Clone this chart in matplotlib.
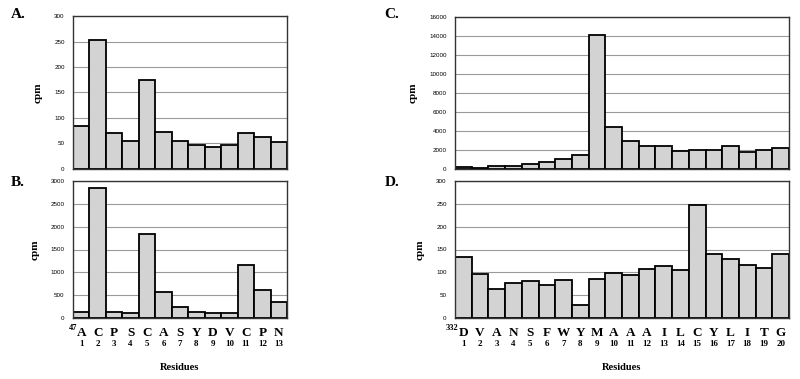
import matplotlib
matplotlib.use("Agg")
import matplotlib.pyplot as plt
import matplotlib.transforms as mtransforms

# Data
res_ab = ["A", "C", "P", "S", "C", "A", "S", "Y", "D", "V", "C", "P", "N"]
pos_ab = [str(i) for i in range(1, 14)]
vals_a = [84, 252, 70, 55, 174, 72, 54, 48, 43, 47, 71, 62, 52]
vals_b = [130, 2850, 130, 110, 1830, 560, 230, 130, 110, 110, 1150, 620, 350]

res_cd = ["D", "V", "A", "N", "S", "F", "W", "Y", "M", "A", "A", "A", "I", "L",
          "C", "Y", "L", "I", "T", "G"]
pos_cd = [str(i) for i in range(1, 21)]
vals_c = [175, 105, 315, 315, 490, 735, 1020, 1470, 14100, 4420, 2950, 2390,
          2390, 1930, 2035, 2035, 2420, 1820, 2035, 2250]
vals_d = [133, 97, 64, 77, 81, 73, 84, 28, 86, 98, 95, 108, 113, 106, 248,
          141, 130, 115, 110, 141]

yt_a = [0, 50, 100, 150, 200, 250, 300]
yt_b = [0, 500, 1000, 1500, 2000, 2500, 3000]
yt_c = [0, 2000, 4000, 6000, 8000, 10000, 12000, 14000, 16000]
yt_d = [0, 50, 100, 150, 200, 250, 300]

SERIF = "Liberation Serif"
SANS = "Liberation Sans"

fig = plt.figure(figsize=(8, 3.79), dpi=100)

W, H = 800, 379
def rect(l, r, t, b):
    return [l / W, 1 - b / H, (r - l) / W, (b - t) / H]

axA = fig.add_axes(rect(73, 287, 16, 169))
axB = fig.add_axes(rect(73, 287, 181, 318))
axC = fig.add_axes(rect(455, 789, 17, 169))
axD = fig.add_axes(rect(455, 789, 181, 318))

def draw(ax, vals, yt):
    x = list(range(len(vals)))
    ax.set_axisbelow(True)
    ax.grid(axis="y", color="#9a9a9a", linewidth=0.8)
    ax.bar(x, vals, width=1.0, color="#d3d3d3", edgecolor="black", linewidth=1.3)
    ax.set_xlim(-0.5, len(vals) - 0.5)
    ax.set_ylim(yt[0], yt[-1])
    ax.set_yticks(yt)
    ax.set_yticklabels([str(v) for v in yt], fontfamily=SANS, fontsize=4.5)
    ax.set_xticks([])
    ax.tick_params(axis="y", length=0, pad=6)
    for s in ax.spines.values():
        s.set_color("#333333")
        s.set_linewidth(1.0)
    ax.set_ylabel("cpm", fontfamily=SERIF, fontweight="bold", fontsize=8, labelpad=8)

draw(axA, vals_a, yt_a)
draw(axB, vals_b, yt_b)
draw(axC, vals_c, yt_c)
draw(axD, vals_d, yt_d)

def xlabels(ax, res, pos, start, sx):
    tr = mtransforms.blended_transform_factory(ax.transData, ax.transAxes)
    h = ax.get_position().height * H
    def yfrac(py):
        return -py / h
    for i, (r, p) in enumerate(zip(res, pos)):
        ax.text(i, yfrac(15), r, transform=tr, ha="center", va="center",
                fontfamily=SERIF, fontweight="bold", fontsize=9.5)
        ax.text(i, yfrac(26), p, transform=tr, ha="center", va="center",
                fontfamily=SERIF, fontweight="bold", fontsize=6.5)
    ax.text(sx, yfrac(10), start, transform=tr, ha="right", va="center",
            fontfamily=SERIF, fontweight="bold", fontsize=6)
    ax.text((len(res) - 1) / 2, yfrac(49), "Residues", transform=tr,
            ha="center", va="center", fontfamily=SERIF, fontweight="bold",
            fontsize=7.5)

xlabels(axB, res_ab, pos_ab, "47", -0.22)
xlabels(axD, res_cd, pos_cd, "332", -0.3)

for lab, x, y in [("A.", 18, 14), ("B.", 18, 183), ("C.", 392, 14), ("D.", 392, 183)]:
    fig.text(x / W, 1 - y / H, lab, ha="center", va="center",
             fontfamily=SERIF, fontweight="bold", fontsize=11)

fig.savefig("out.png", dpi=100)
